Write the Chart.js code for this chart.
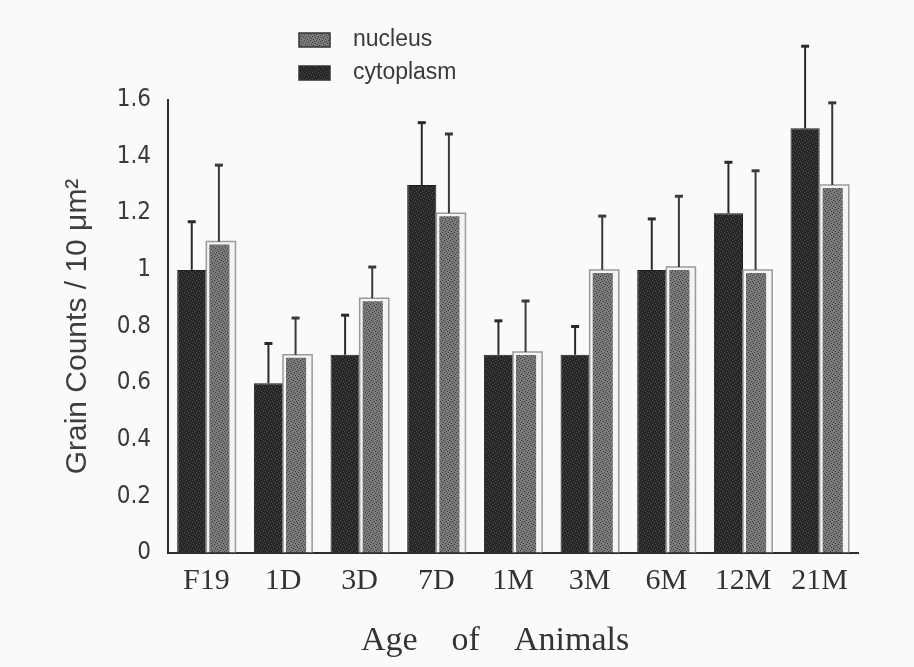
<!DOCTYPE html>
<html>
<head>
<meta charset="utf-8">
<script src="https://cdn.jsdelivr.net/npm/chart.js@4.4.0/dist/chart.umd.min.js"></script>
<style>
  html, body { margin: 0; padding: 0; background: #fafafa; }
</style>
</head>
<body>
<canvas id="grainChart" width="914" height="667"></canvas>
<script>
// Data
const ages = ['F19', '1D', '3D', '7D', '1M', '3M', '6M', '12M', '21M'];
const cytoplasm   = [1.0, 0.6, 0.7, 1.3, 0.7, 0.7, 1.0, 1.2, 1.5];
const cytoplasmSD = [0.17, 0.14, 0.14, 0.22, 0.12, 0.10, 0.18, 0.18, 0.29];
const nucleus     = [1.1, 0.7, 0.9, 1.2, 0.71, 1.0, 1.01, 1.0, 1.3];
const nucleusSD   = [0.27, 0.13, 0.11, 0.28, 0.18, 0.19, 0.25, 0.35, 0.29];
const yTickValues = [0, 0.2, 0.4, 0.6, 0.8, 1, 1.2, 1.4, 1.6];
const yTickLabels = ['0', '0.2', '0.4', '0.6', '0.8', '1', '1.2', '1.4', '1.6'];

const sansNarrow = "'Liberation Sans Narrow', 'DejaVu Sans Condensed', 'Liberation Sans', sans-serif";
const serifFont = "'Liberation Serif', 'DejaVu Serif', serif";

// stippled fill like the scanned print
function stipple(base, dot) {
  const c = document.createElement('canvas');
  c.width = 6; c.height = 6;
  const g = c.getContext('2d');
  g.fillStyle = base;
  g.fillRect(0, 0, 6, 6);
  g.fillStyle = dot;
  [[0, 0], [3, 1], [1, 3], [4, 4], [2, 5], [5, 2]].forEach(([x, y]) => g.fillRect(x, y, 1, 1));
  return g.createPattern(c, 'repeat');
}
const darkFill = stipple('#262626', '#4d4d4d');
const lightFill = stipple('#7a7a7a', '#3c3c3c');

const errors = [cytoplasmSD, nucleusSD];

const pageBg = {
  id: 'pageBg',
  beforeDraw(chart) {
    const { ctx } = chart;
    ctx.save();
    ctx.fillStyle = '#fafafa';
    ctx.fillRect(0, 0, chart.width, chart.height);
    ctx.restore();
  }
};

// outline + upward error bars
const errorBars = {
  id: 'errorBars',
  afterDatasetsDraw(chart) {
    const { ctx, scales: { y } } = chart;
    chart.data.datasets.forEach((ds, di) => {
      const meta = chart.getDatasetMeta(di);
      meta.data.forEach((bar, i) => {
        ctx.save();
        if (di === 1) {
          const l = bar.x - bar.width / 2, r = bar.x + bar.width / 2;
          ctx.strokeStyle = '#9a9a9a';
          ctx.lineWidth = 1.5;
          ctx.beginPath();
          ctx.moveTo(l, bar.base); ctx.lineTo(l, bar.y); ctx.lineTo(r, bar.y); ctx.lineTo(r, bar.base);
          ctx.stroke();
        }
        const top = y.getPixelForValue(ds.data[i] + errors[di][i]);
        const x = di === 1 ? bar.x - 2 : bar.x;
        ctx.strokeStyle = di === 1 ? '#3a3a3a' : '#2a2a2a';
        ctx.lineWidth = 2;
        ctx.beginPath();
        ctx.moveTo(x, bar.y);
        ctx.lineTo(x, top);
        ctx.stroke();
        ctx.lineWidth = 3;
        ctx.beginPath();
        ctx.moveTo(x - 4, top);
        ctx.lineTo(x + 4, top);
        ctx.stroke();
        ctx.restore();
      });
    });
  }
};

// legend stacked at top, nucleus first
const stackedLegend = {
  id: 'stackedLegend',
  afterDraw(chart) {
    const { ctx } = chart;
    const items = chart.data.datasets.slice().reverse();
    ctx.save();
    ctx.font = "23px 'Liberation Sans', Arial, sans-serif";
    ctx.textBaseline = 'middle';
    items.forEach((ds, k) => {
      const cy = 40 + k * 33;
      ctx.fillStyle = ds.backgroundColor;
      ctx.fillRect(299, cy - 7, 31, 14);
      ctx.strokeStyle = '#333';
      ctx.lineWidth = 1.5;
      ctx.strokeRect(299, cy - 7, 31, 14);
      ctx.fillStyle = '#3a3a3a';
      ctx.fillText(ds.label, 353, cy);
    });
    ctx.restore();
  }
};

const xTitle = {
  id: 'xTitle',
  afterDraw(chart) {
    const { ctx, chartArea } = chart;
    ctx.save();
    ctx.font = '34px ' + serifFont;
    ctx.fillStyle = '#333';
    ctx.textAlign = 'center';
    ctx.textBaseline = 'alphabetic';
    ctx.fillText('Age    of    Animals', chartArea.left + chartArea.width * 0.474, 650);
    ctx.restore();
  }
};

new Chart(document.getElementById('grainChart'), {
  type: 'bar',
  data: {
    labels: ages,
    datasets: [
      {
        label: 'cytoplasm',
        data: cytoplasm,
        backgroundColor: darkFill,
        borderColor: '#1e1e1e',
        borderWidth: 1,
        categoryPercentage: 0.76,
        barPercentage: 1.0
      },
      {
        label: 'nucleus',
        data: nucleus,
        backgroundColor: lightFill,
        borderColor: '#f4f4f4',
        borderWidth: { left: 3, right: 6, top: 3, bottom: 0 },
        categoryPercentage: 0.76,
        barPercentage: 1.0
      }
    ]
  },
  options: {
    responsive: false,
    animation: false,
    layout: { padding: { top: 100, right: 56, left: 0, bottom: 0 } },
    plugins: {
      legend: { display: false },
      tooltip: { enabled: false }
    },
    scales: {
      x: {
        grid: { drawOnChartArea: false, drawTicks: false },
        border: { color: '#2e2e2e', width: 2 },
        ticks: {
          padding: 10,
          color: '#333',
          font: { family: serifFont, size: 30 }
        },
        afterFit(scale) { scale.height = 114; }
      },
      y: {
        min: 0,
        max: 1.6,
        grid: { drawOnChartArea: false, drawTicks: false },
        border: { color: '#2e2e2e', width: 2 },
        afterBuildTicks(scale) { scale.ticks = yTickValues.map(v => ({ value: v })); },
        ticks: {
          padding: 17,
          color: '#3a3a3a',
          font: { family: sansNarrow, size: 24 },
          callback: (v, i) => yTickLabels[i]
        },
        title: {
          display: true,
          text: 'Grain Counts / 10 \u03bcm\u00b2',
          color: '#3e3e3e',
          font: { family: "'Liberation Sans', Arial, sans-serif", size: 30 },
          padding: { top: 60, bottom: 0 }
        },
        afterFit(scale) { scale.width = 168; }
      }
    }
  },
  plugins: [pageBg, errorBars, stackedLegend, xTitle]
});
</script>
</body>
</html>
